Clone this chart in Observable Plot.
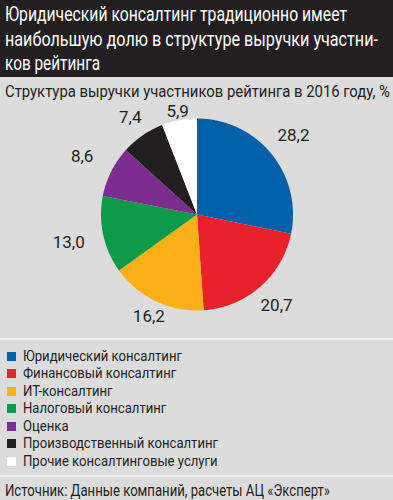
<!DOCTYPE html>
<html>
<head>
<meta charset="utf-8">
<script src="https://cdn.jsdelivr.net/npm/d3@7"></script>
<script src="https://cdn.jsdelivr.net/npm/@observablehq/plot@0.6"></script>
<style>
  html, body { margin: 0; padding: 0; }
  body {
    width: 393px; height: 500px; overflow: hidden;
    background: #dcdcdd;
    font-family: "Roboto", "Liberation Sans", sans-serif;
    color: #231f20;
  }
  .fit { display: inline-block; white-space: nowrap; transform-origin: 0 0; }
  #title {
    background: #231f20; color: #fff;
    height: 77px; box-sizing: border-box;
    padding: 2px 0 0 5px;
    font-size: 20px; line-height: 24.5px;
  }
  #title div { height: 24.5px; }
  #subtitle {
    height: 21px; box-sizing: border-box;
    padding: 4.5px 0 0 5px; font-size: 16px; line-height: 20px;
  }
  #chart { height: 240px; }
  #chart svg { display: block; overflow: visible; }
  .sep { height: 2px; background: #f1f1f1; }
  #legend { height: 135px; box-sizing: border-box; padding: 7.5px 0 0 7px; }
  .item { display: flex; align-items: center; height: 17.5px; font-size: 14px; line-height: 17.5px; }
  .sw { width: 9px; height: 9px; margin-right: 7px; flex: none; }
  #source { padding: 3.5px 0 0 5px; font-size: 16px; line-height: 20px; }
</style>
</head>
<body>
<div id="title">
  <div><span class="fit" data-w="342">Юридический консалтинг традиционно имеет</span></div>
  <div><span class="fit" data-w="373">наибольшую долю в структуре выручки участни-</span></div>
  <div><span class="fit" data-w="95">ков рейтинга</span></div>
</div>
<div id="subtitle"><span class="fit" data-w="385">Структура выручки участников рейтинга в 2016 году, %</span></div>
<div id="chart"></div>
<div class="sep"></div>
<div id="legend"></div>
<div class="sep"></div>
<div id="source"><span class="fit" data-w="325">Источник: Данные компаний, расчеты АЦ «Эксперт»</span></div>
<script>
const categories = [
  "Юридический консалтинг",
  "Финансовый консалтинг",
  "ИТ-консалтинг",
  "Налоговый консалтинг",
  "Оценка",
  "Производственный консалтинг",
  "Прочие консалтинговые услуги"
];
const values = [28.2, 20.7, 16.2, 13.0, 8.6, 7.4, 5.9];
const labels = ["28,2", "20,7", "16,2", "13,0", "8,6", "7,4", "5,9"];
const colors = ["#0061a9", "#e8212b", "#fcb017", "#0f9a49", "#7b2e8f", "#231f20", "#ffffff"];

const W = 393, H = 240;
const R = 96;          // pie radius in px
const CY = 116;        // pie centre from top of svg

const rows = categories.map((c, i) => ({cat: c, value: values[i], label: labels[i]}));
const arcs = d3.pie().sort(null).value(d => d.value)(rows);

const polys = [];
const texts = [];
arcs.forEach(a => {
  const c = a.data.cat;
  polys.push({cat: c, x: 0, y: 0});
  const steps = Math.max(2, Math.ceil((a.endAngle - a.startAngle) / 0.01));
  for (let k = 0; k <= steps; k++) {
    const t = a.startAngle + (a.endAngle - a.startAngle) * k / steps;
    polys.push({cat: c, x: R * Math.sin(t), y: R * Math.cos(t)});
  }
  polys.push({cat: c, x: 0, y: 0});
  const m = (a.startAngle + a.endAngle) / 2;
  const d = R + 3 + 33 * Math.abs(Math.sin(m));
  texts.push({label: a.data.label, x: d * Math.sin(m), y: d * Math.cos(m)});
});

const plot = Plot.plot({
  width: W, height: H,
  margin: 0,
  x: {domain: [-W / 2, W / 2], axis: null},
  y: {domain: [-(H - CY), CY], axis: null},
  color: {domain: categories, range: colors},
  marks: [
    Plot.line(polys, {x: "x", y: "y", z: "cat", fill: "cat", stroke: "none", curve: "linear"}),
    Plot.text(texts, {x: "x", y: "y", text: "label", fontSize: 17, fill: "#231f20"})
  ],
  style: {background: "transparent", fontFamily: "Roboto, sans-serif", overflow: "visible"}
});
document.getElementById("chart").appendChild(plot);

const leg = document.getElementById("legend");
const legTexts = [];
categories.forEach((c, i) => {
  const it = document.createElement("div");
  it.className = "item";
  const sw = document.createElement("span");
  sw.className = "sw";
  sw.style.background = colors[i];
  const tx = document.createElement("span");
  tx.className = "fit";
  tx.textContent = c;
  it.appendChild(sw); it.appendChild(tx);
  leg.appendChild(it);
  legTexts.push(tx);
});

// horizontal condensing of text to mimic the condensed typeface
document.querySelectorAll(".fit[data-w]").forEach(el => {
  const w = el.getBoundingClientRect().width;
  el.style.transform = `scaleX(${(+el.dataset.w) / w})`;
});
const lw = legTexts[0].getBoundingClientRect().width;
const ls = 159 / lw;
legTexts.forEach(el => el.style.transform = `scaleX(${ls})`);
</script>
</body>
</html>
